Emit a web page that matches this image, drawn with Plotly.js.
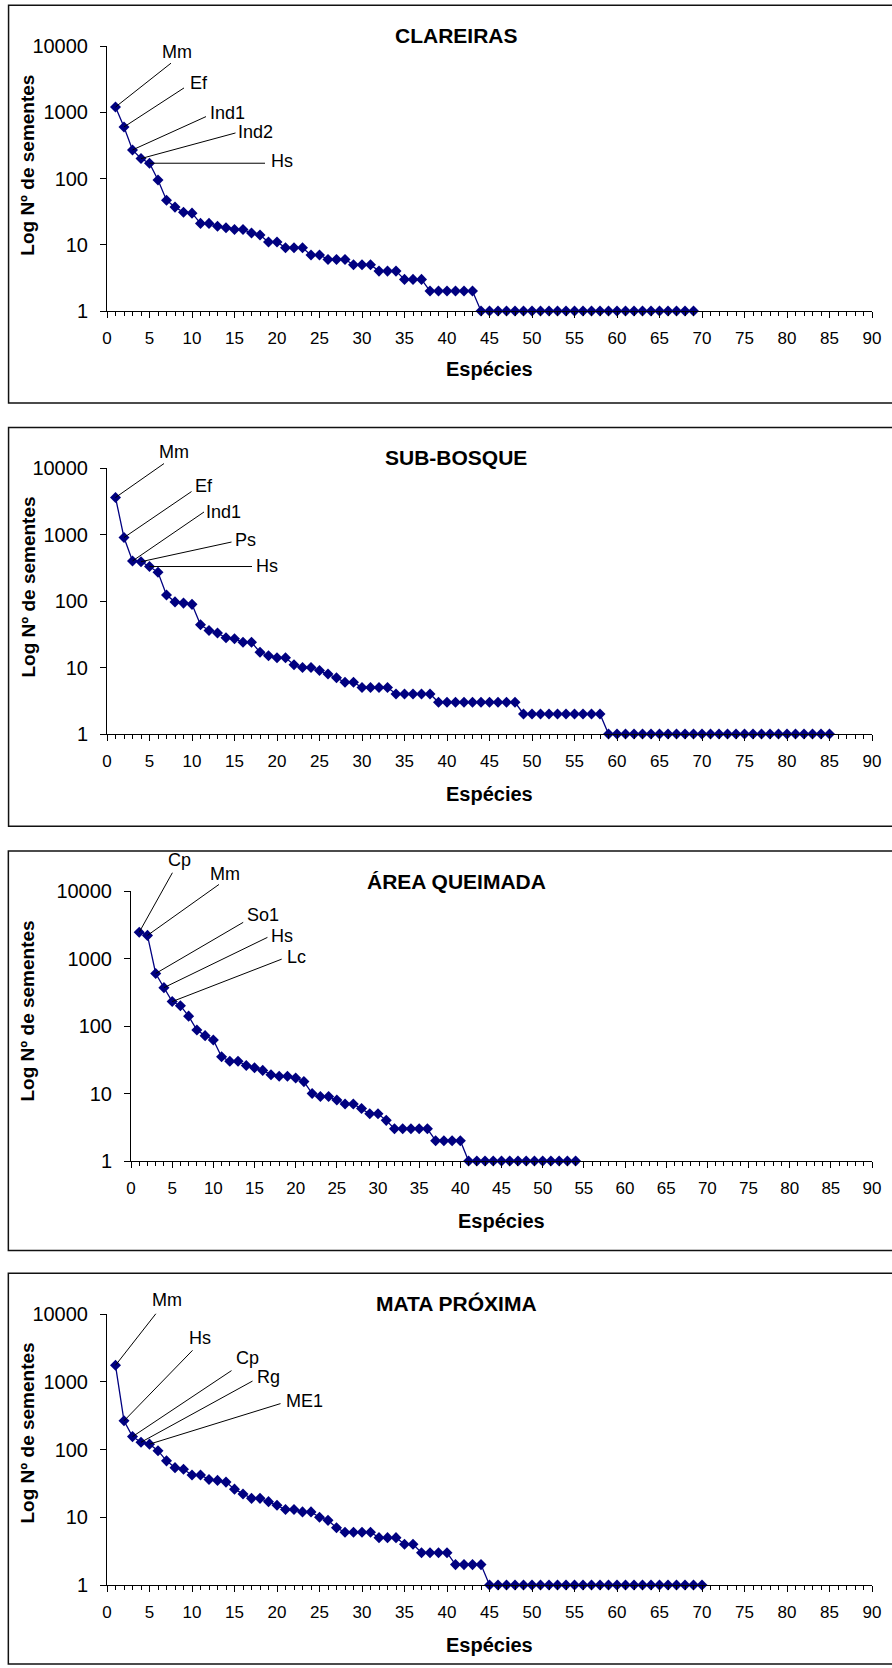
<!DOCTYPE html>
<html><head><meta charset="utf-8">
<script src="https://cdn.plot.ly/plotly-3.0.1.min.js"></script>
<style>
html,body{margin:0;padding:0;background:#fff;width:892px;height:1668px;overflow:hidden;}
.p{position:absolute;left:0;width:892px;}
</style></head><body>
<div id="c1" class="p" style="top:0px;height:422px"></div>
<div id="c2" class="p" style="top:422px;height:424px"></div>
<div id="c3" class="p" style="top:846px;height:422px"></div>
<div id="c4" class="p" style="top:1268px;height:400px"></div>
<script>
// ---- data ----
const clareiras = [1200,600,270,200,170,95,47,37,31,30,21,21,19,18,17,17,15,14,11,11,9,9,9,7,7,6,6,6,5,5,5,4,4,4,3,3,3,2,2,2,2,2,2,1,1,1,1,1,1,1,1,1,1,1,1,1,1,1,1,1,1,1,1,1,1,1,1,1,1];
const subBosque = [3600,900,400,390,330,270,123,97,93,89,44,36,33,28,27,24,24,17,15,14,14,11,10,10,9,8,7,6,6,5,5,5,5,4,4,4,4,4,3,3,3,3,3,3,3,3,3,3,2,2,2,2,2,2,2,2,2,2,1,1,1,1,1,1,1,1,1,1,1,1,1,1,1,1,1,1,1,1,1,1,1,1,1,1,1];
const areaQueimada = [2450,2200,600,370,230,200,140,87,72,62,35,30,30,26,24,22,19,18,18,17,15,10,9,9,8,7,7,6,5,5,4,3,3,3,3,3,2,2,2,2,1,1,1,1,1,1,1,1,1,1,1,1,1,1];
const mataProxima = [1750,265,155,128,120,96,68,54,51,42,42,36,35,33,26,22,19,19,17,15,13,13,12,12,10,9,7,6,6,6,6,5,5,5,4,4,3,3,3,3,2,2,2,2,1,1,1,1,1,1,1,1,1,1,1,1,1,1,1,1,1,1,1,1,1,1,1,1,1,1];

const labelsClareiras = ['Mm','Ef','Ind1','Ind2','Hs'];
const labelsSubBosque = ['Mm','Ef','Ind1','Ps','Hs'];
const labelsQueimada = ['Cp','Mm','So1','Hs','Lc'];
const labelsMata = ['Mm','Hs','Cp','Rg','ME1'];
const labelSpecies = [1,2,3,4,5];

const panelTitles = ['CLAREIRAS','SUB-BOSQUE','ÁREA QUEIMADA','MATA PRÓXIMA'];
const xTickVals = [0,5,10,15,20,25,30,35,40,45,50,55,60,65,70,75,80,85,90];
const xTickText = ['0','5','10','15','20','25','30','35','40','45','50','55','60','65','70','75','80','85','90'];
const yTickVals = [1,10,100,1000,10000];
const yTickText = ['1','10','100','1000','10000'];
const xTitle = 'Espécies';
const yTitle = 'Log Nº de sementes';

// ---- styling ----
const FONT = '"Liberation Sans", Arial, Helvetica, sans-serif';
const NAVY = '#000080';

function makePanel(divId, cfg) {
  const W = 892, H = cfg.height, m = cfg.margin;
  const pw = W - m.l - m.r, ph = H - m.t - m.b;
  const px2x = p => (p - m.l) / pw;
  const py2y = p => (H - m.b - p) / ph;
  const xs = cfg.values.map((_, i) => i + 1);
  const trace = {
    x: xs, y: cfg.values, type: 'scatter', mode: 'lines+markers',
    line: {color: NAVY, width: 1.3},
    marker: {symbol: 'diamond', size: 8.5, color: NAVY},
    cliponaxis: false, hoverinfo: 'skip', showlegend: false
  };
  const ann = [];
  cfg.labels.forEach((lab, k) => {
    const idx = labelSpecies[k];
    const yv = Math.log10(cfg.values[idx - 1]);
    const o = cfg.offsets[k];
    ann.push({x: idx, y: yv, xref: 'x', yref: 'y', text: '', showarrow: true,
      arrowhead: 0, arrowwidth: 1, arrowcolor: '#000', ax: o[0], ay: o[1], standoff: 0, startstandoff: 0});
    ann.push({x: idx, y: yv, xref: 'x', yref: 'y', text: lab, showarrow: false,
      xshift: o[2], yshift: o[3], xanchor: 'center', yanchor: 'middle',
      font: {family: FONT, size: 18, color: '#000'}});
  });
  ann.push({xref: 'paper', yref: 'paper', x: px2x(456), y: py2y(35), text: '<b>' + cfg.title + '</b>',
    showarrow: false, xanchor: 'center', yanchor: 'middle', font: {family: FONT, size: 21, color: '#000'}});
  ann.push({xref: 'paper', yref: 'paper', x: px2x(27), y: py2y(cfg.yTitleY), text: '<b>' + yTitle + '</b>',
    textangle: -90, showarrow: false, xanchor: 'center', yanchor: 'middle', font: {family: FONT, size: 19, color: '#000'}});
  ann.push({xref: 'paper', yref: 'paper', x: 0.5, y: py2y(H - m.b + cfg.xTitleDy), text: '<b>' + xTitle + '</b>',
    showarrow: false, xanchor: 'center', yanchor: 'middle', font: {family: FONT, size: 20, color: '#000'}});

  const layout = {
    width: W, height: H, margin: {l: m.l, r: m.r, t: m.t, b: m.b, autoexpand: false},
    paper_bgcolor: '#fff', plot_bgcolor: '#fff', showlegend: false,
    font: {family: FONT, color: '#000'},
    xaxis: {range: [0, 90], tickmode: 'array', tickvals: xTickVals, ticktext: xTickText,
      ticks: 'outside', ticklen: 6, tickwidth: 1, tickcolor: '#000',
      minor: {tickmode: 'linear', tick0: 0, dtick: 1, ticks: 'outside', ticklen: 4, tickwidth: 1, tickcolor: '#000'},
      showline: true, linecolor: '#000', linewidth: 1, showgrid: false, zeroline: false,
      tickfont: {family: FONT, size: 17, color: '#000'}, ticklabelstandoff: 6, fixedrange: true},
    yaxis: {type: 'log', range: [0, 4], tickmode: 'array', tickvals: yTickVals, ticktext: yTickText,
      ticks: 'outside', ticklen: 6, tickwidth: 1, tickcolor: '#000',
      showline: true, linecolor: '#000', linewidth: 1, showgrid: false, zeroline: false,
      tickfont: {family: FONT, size: 20, color: '#000'}, ticklabelstandoff: 8, fixedrange: true},
    shapes: [{type: 'rect', xref: 'paper', yref: 'paper', x0: px2x(8), x1: px2x(905),
      y0: py2y(cfg.box[1]), y1: py2y(cfg.box[0]), line: {color: '#111', width: 1.5}, layer: 'below'}],
    annotations: ann
  };
  Plotly.newPlot(divId, [trace], layout, {staticPlot: true, displayModeBar: false});
}

makePanel('c1', {height: 422, margin: {l: 106.5, r: 20, t: 45.7, b: 111}, box: [5, 403], xTitleDy: 58,
  values: clareiras, labels: labelsClareiras, title: panelTitles[0], yTitleY: 165,
  offsets: [[57,-45,61,55],[61.5,-40,75,44],[75,-34,95,37],[96,-26,114.5,27],[117,0,132,2]]});
makePanel('c2', {height: 424, margin: {l: 106.5, r: 20, t: 45.7, b: 111.7}, box: [5, 404.7], xTitleDy: 60,
  values: subBosque, labels: labelsSubBosque, title: panelTitles[1], yTitleY: 165,
  offsets: [[50,-35,58.5,45.6],[69,-47,79.5,51.7],[73,-50,90.5,48.6],[92,-20,104,22],[104,0,117,1]]});
makePanel('c3', {height: 422, margin: {l: 130.7, r: 20, t: 44.7, b: 107}, box: [4.7, 404.7], xTitleDy: 60,
  values: areaQueimada, labels: labelsQueimada, title: panelTitles[2], yTitleY: 165,
  offsets: [[34,-61,40,72],[73,-52,78,61],[89,-52,107,58],[105,-51,118.5,51.6],[111,-43,124.5,44.5]]});
makePanel('c4', {height: 400, margin: {l: 106.7, r: 20, t: 45.7, b: 83}, box: [5, 396], xTitleDy: 60,
  values: mataProxima, labels: labelsMata, title: panelTitles[3], yTitleY: 165,
  offsets: [[41.5,-53,51.5,65],[70,-72,76,83],[100.5,-67,115,79],[113,-62,127,65],[132.5,-41,155,43]]});
</script>
</body></html>
